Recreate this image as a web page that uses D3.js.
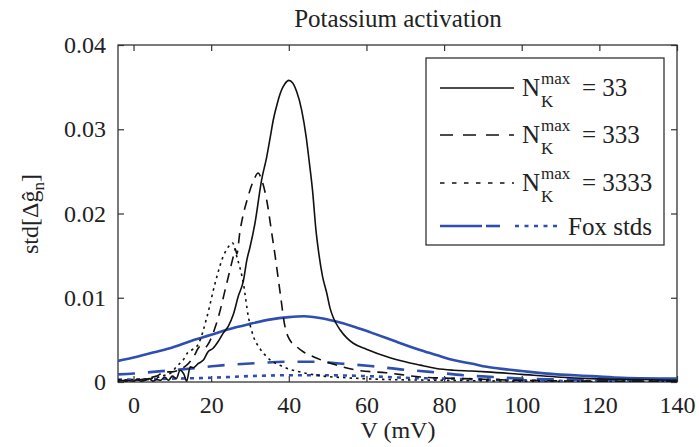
<!DOCTYPE html>
<html><head><meta charset="utf-8">
<script src="https://cdn.jsdelivr.net/npm/d3@7"></script>
<style>body{margin:0;background:#fff}svg{display:block}text{font-family:"Liberation Serif","DejaVu Serif",serif;fill:#222}</style>
</head><body><svg id="c" width="699" height="447"></svg>
<script>
// ---- data ----
const xTicks = [0,20,40,60,80,100,120,140];
const yTicks = [0,0.01,0.02,0.03,0.04];
const yTickLabels = ["0","0.01","0.02","0.03","0.04"];

const v33 = [-4,-2,0,1,2,3,4,5,6,7,8,9,10,11,12,13,13.7,14.6,15.4,16.7,18,19.2,20.5,21.8,23.1,24.4,25.7,27,28.3,29.2,30,31.3,33,34.3,35.2,36,37,38,39,40,41,42,43.3,44.5,45.3,46.1,47,47.6,48.7,49.8,50.6,51.5,53.2,55,56.6,60,65.3,70,73.8,78,82.4,87,91,100,109,118,130,140];
const s33 = [0.0001,0.0002,0.0001,0.0003,0.0001,0.0002,0.0004,0.0001,0.0003,0.0002,0.0006,0.0002,0.0007,0.0004,0.0014,0.0009,0.0001,0.0018,0.0017,0.0022,0.0026,0.0036,0.0040,0.0048,0.0058,0.0066,0.0080,0.0102,0.0120,0.0145,0.0160,0.0189,0.0240,0.0267,0.0290,0.0311,0.0330,0.0345,0.0354,0.0358,0.0355,0.0345,0.0323,0.0290,0.0260,0.0228,0.0180,0.0157,0.0125,0.0105,0.0088,0.0076,0.0062,0.0052,0.0046,0.0039,0.0030,0.0024,0.0020,0.0016,0.0014,0.0013,0.0012,0.0009,0.0006,0.0004,0.0003,0.0002];

const v333 = [-4,-2,0,2,4,6,8,10,12,13.7,15.5,17.1,18,21.4,24,25.7,26.2,26.6,27.4,29.5,31,32.1,33,34.3,35.6,36.5,37.8,39,40,42,44,46.3,49,53,57.5,65,74,85,100,120,140];
const s333 = [0.0003,0.0001,0.0002,0.0003,0.0005,0.0007,0.0012,0.0012,0.0015,0.0020,0.0030,0.0042,0.0040,0.0070,0.0117,0.0149,0.0158,0.0152,0.0178,0.0220,0.0240,0.0248,0.0240,0.0216,0.0177,0.0149,0.0105,0.0066,0.0052,0.0042,0.0035,0.0030,0.0025,0.0019,0.0014,0.0011,0.0006,0.0004,0.0002,0.0001,0.0001];

const v3333 = [-4,0,4,8,10,11,12.8,14,15,16.7,18.9,21,23.1,24.9,25.5,26.6,28.3,29.6,30.9,32.5,34.3,38.6,43.8,48.9,55,65,80,100,140];
const s3333 = [0.0002,0.0003,0.0004,0.0008,0.0012,0.0018,0.0026,0.0035,0.0038,0.0045,0.0077,0.0117,0.0149,0.0163,0.0165,0.0149,0.0117,0.0077,0.0054,0.0040,0.0030,0.0018,0.0011,0.0007,0.0005,0.0003,0.0002,0.0001,0.00005];

const vFox33 = [-4,0,5,10,15,20,24,30,35,40,44,48,52,56.6,61,65.3,70,73.8,78,82.4,87,91,96,100,109,118,126,140];
const sFox33 = [0.0025,0.0029,0.0035,0.0041,0.0049,0.0056,0.0062,0.0069,0.0074,0.0077,0.0078,0.0076,0.0072,0.0066,0.0059,0.0052,0.0044,0.0038,0.0032,0.0026,0.0022,0.0018,0.0015,0.0013,0.0009,0.0007,0.0005,0.0004];

const vFox333 = [-4,0,5,10,15,21,30,40,46,53,61,68.7,76.4,85,92.7,100,110,125,140];
const sFox333 = [0.0009,0.0010,0.0012,0.0014,0.0016,0.0019,0.0022,0.0024,0.0024,0.0022,0.0019,0.0015,0.0012,0.0008,0.0006,0.0004,0.0003,0.0002,0.0001];

const vFox3333 = [-4,0,10,20,30,40,50,60,70,80,90,100,120,140];
const sFox3333 = [0.0003,0.0003,0.0004,0.0005,0.0007,0.0008,0.0008,0.0007,0.0005,0.0004,0.0003,0.0002,0.0001,0.0001];

const legendLabels = ["33","333","3333"];

// ---- chart ----
const svg = d3.select("#c");
const L=118, T=45, R=677, B=382;
const x = d3.scaleLinear().domain([-4,140]).range([L,R]);
const y = d3.scaleLinear().domain([0,0.04]).range([B,T]);

svg.append("defs").append("clipPath").attr("id","clip")
  .append("rect").attr("x",L).attr("y",T).attr("width",R-L).attr("height",B-T);

const axisCol="#333";
const g = svg.append("g");
// frame
g.append("rect").attr("x",L).attr("y",T).attr("width",R-L).attr("height",B-T)
  .attr("fill","none").attr("stroke",axisCol).attr("stroke-width",1.3);

const tl=6;
const bx = d3.axisBottom(x).tickValues(xTicks).tickSize(-tl).tickPadding(tl+8).tickFormat(d3.format("d"));
const tx = d3.axisTop(x).tickValues(xTicks).tickSize(-tl).tickFormat("");
const ly = d3.axisLeft(y).tickValues(yTicks).tickSize(-tl).tickPadding(tl+6).tickFormat((d,i)=>yTickLabels[i]);
const ry = d3.axisRight(y).tickValues(yTicks).tickSize(-tl).tickFormat("");
function style(sel){sel.select(".domain").remove();sel.selectAll("line").attr("stroke",axisCol).attr("stroke-width",1.2);
  sel.selectAll("text").attr("font-size",24).attr("font-family","Liberation Serif").attr("fill","#222");}
svg.append("g").attr("transform",`translate(0,${B})`).call(bx).call(style);
svg.append("g").attr("transform",`translate(0,${T})`).call(tx).call(style);
svg.append("g").attr("transform",`translate(${L},0)`).call(ly).call(style);
svg.append("g").attr("transform",`translate(${R},0)`).call(ry).call(style);

// lines
const line = d3.line().x(d=>x(d[0])).y(d=>y(d[1])).curve(d3.curveMonotoneX);
const series = [
  {v:vFox33,s:sFox33,c:"#2f4fb0",w:2.6,dash:null},
  {v:vFox333,s:sFox333,c:"#2f4fb0",w:2.6,dash:"17,13"},
  {v:vFox3333,s:sFox3333,c:"#2f4fb0",w:2.6,dash:"4,5"},
  {v:v33,s:s33,c:"#111",w:1.6,dash:null},
  {v:v333,s:s333,c:"#111",w:1.6,dash:"10,7"},
  {v:v3333,s:s3333,c:"#111",w:1.6,dash:"2.5,4"}
];
const pg = svg.append("g").attr("clip-path","url(#clip)");
series.forEach(sr=>{
  pg.append("path").datum(sr.v.map((v,i)=>[v,sr.s[i]]))
    .attr("d",line).attr("fill","none").attr("stroke",sr.c).attr("stroke-width",sr.w)
    .attr("stroke-dasharray",sr.dash).attr("stroke-linejoin","round");
});

// titles
svg.append("text").attr("x",398).attr("y",27).attr("text-anchor","middle").attr("font-size",25).text("Potassium activation");
svg.append("text").attr("x",398).attr("y",438).attr("text-anchor","middle").attr("font-size",24).text("V (mV)");
const yl = svg.append("text").attr("transform","translate(38,214) rotate(-90)").attr("text-anchor","middle").attr("font-size",24);
yl.append("tspan").text("std[Δĝ");
yl.append("tspan").attr("font-size",17).attr("dy",6).text("n");
yl.append("tspan").attr("dy",-6).text("]");

// legend
const lg = svg.append("g");
lg.append("rect").attr("x",426).attr("y",58).attr("width",238).attr("height",187)
  .attr("fill","#fff").attr("stroke",axisCol).attr("stroke-width",1.3);
const ly0=[88,135,183];
const ldash=[null,"13,10","4.5,7.5"];
legendLabels.forEach((lab,i)=>{
  const yy=ly0[i];
  lg.append("line").attr("x1",440).attr("x2",514).attr("y1",yy).attr("y2",yy)
    .attr("stroke","#111").attr("stroke-width",1.6).attr("stroke-dasharray",ldash[i]);
  lg.append("text").attr("x",522).attr("y",yy+8).attr("font-size",25).text("N");
  lg.append("text").attr("x",541).attr("y",yy-4).attr("font-size",17).text("max");
  lg.append("text").attr("x",541).attr("y",yy+19).attr("font-size",17).text("K");
  lg.append("text").attr("x",582).attr("y",yy+8).attr("font-size",25).text("= "+lab);
});
const fy=226;
lg.append("line").attr("x1",440).attr("x2",482).attr("y1",fy).attr("y2",fy).attr("stroke","#2f4fb0").attr("stroke-width",2.6);
lg.append("line").attr("x1",486).attr("x2",500).attr("y1",fy).attr("y2",fy).attr("stroke","#2f4fb0").attr("stroke-width",2.6);
lg.append("line").attr("x1",515).attr("x2",557).attr("y1",fy).attr("y2",fy).attr("stroke","#2f4fb0").attr("stroke-width",2.6).attr("stroke-dasharray","4,5.5");
lg.append("text").attr("x",568).attr("y",fy+9).attr("font-size",25).text("Fox stds");
</script></body></html>
